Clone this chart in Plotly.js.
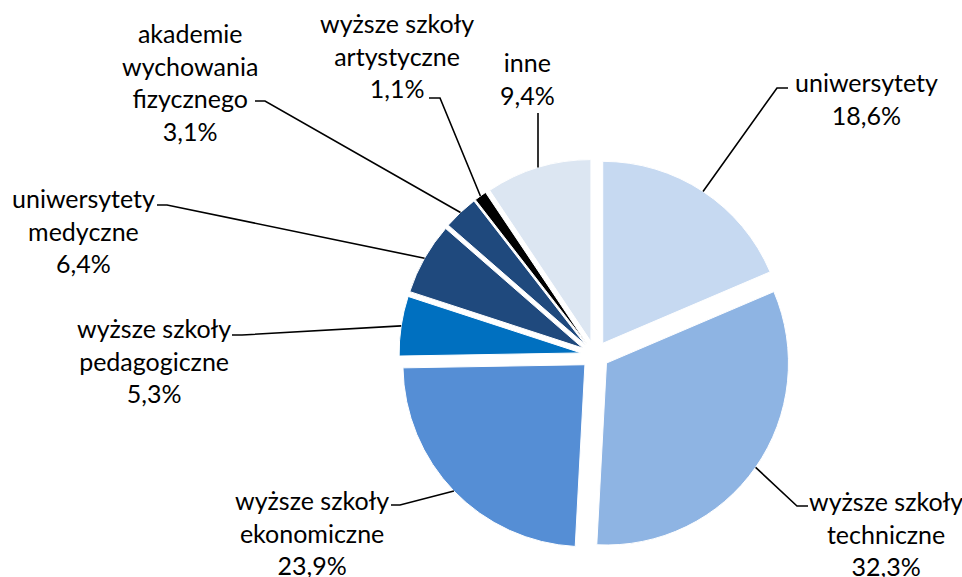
<!DOCTYPE html>
<html>
<head>
<meta charset="utf-8">
<script src="https://cdn.plot.ly/plotly-3.0.1.min.js"></script>
<style>
  html, body { margin: 0; padding: 0; background: #fff; }
  #chart { width: 962px; height: 577px; }
</style>
</head>
<body>
<div id="chart"></div>
<script>
// ---- data ----
const categories = [
  'uniwersytety',
  'wyższe szkoły techniczne',
  'wyższe szkoły ekonomiczne',
  'wyższe szkoły pedagogiczne',
  'uniwersytety medyczne',
  'akademie wychowania fizycznego',
  'wyższe szkoły artystyczne',
  'inne'
];
const labelText = [
  'uniwersytety',
  'wyższe szkoły<br>techniczne',
  'wyższe szkoły<br>ekonomiczne',
  'wyższe szkoły<br>pedagogiczne',
  'uniwersytety<br>medyczne',
  'akademie<br>wychowania<br>fizycznego',
  'wyższe szkoły<br>artystyczne',
  'inne'
];
const shares = [18.6, 32.3, 23.9, 5.3, 6.4, 3.1, 1.1, 9.4];

// ---- styles ----
const colors = ['#C6D9F1', '#8EB4E3', '#558ED5', '#0070C0', '#1F497D', '#1F497D', '#000000', '#DCE6F2'];
const W = 962, H = 577;
const pullFrac = 0.077;
const domX = [399 / W, 791 / W];
const domY = [1 - 551 / H, 1 - 159 / H];
// label placement (pixels): text block center (tx, ty), elbow (ex, ey), end of horizontal tick (hx)
const labelPos = [
  {tx: 866, ty: 98,  ex: 777, ey: 88,  hx: 788},
  {tx: 886, ty: 533, ex: 797, ey: 506, hx: 808},
  {tx: 312, ty: 532, ex: 400, ey: 505, hx: 391},
  {tx: 154, ty: 360, ex: 242, ey: 335, hx: 232},
  {tx: 83,  ty: 231, ex: 167, ey: 205, hx: 157},
  {tx: 190, ty: 82,  ex: 265, ey: 101, hx: 255},
  {tx: 397, ty: 56,  ex: 440, ey: 98,  hx: 429},
  {tx: 527, ty: 79,  ex: 538, ey: 113, hx: 538}
];
const FONT = {family: 'Lato, "Open Sans", sans-serif', size: 25, color: '#000'};

// ---- geometry following Plotly's pie sizing ----
const bw = W * (domX[1] - domX[0]), bh = H * (domY[1] - domY[0]);
const R = Math.min(bw, bh) / 2 / (1 + pullFrac);
const CX = W * (domX[0] + domX[1]) / 2;
const CY = H * (1 - domY[0]) - bh / 2;
const total = shares.reduce((a, b) => a + b, 0);

const px = x => x / W;
const py = y => 1 - y / H;

const annotations = [];
const shapes = [];
let cum = 0;
shares.forEach((v, i) => {
  const mid = (cum + v / 2) / total * 2 * Math.PI;
  cum += v;
  const dx = Math.sin(mid), dy = -Math.cos(mid);
  const ax = CX + dx * (pullFrac * R + R);
  const ay = CY + dy * (pullFrac * R + R);
  const p = labelPos[i];
  annotations.push({
    xref: 'paper', yref: 'paper', x: px(p.tx), y: py(p.ty),
    xanchor: 'center', yanchor: 'middle', align: 'center',
    showarrow: false, font: FONT,
    text: labelText[i] + '<br>' + v.toFixed(1).replace('.', ',') + '%'
  });
  shapes.push({
    type: 'path', xref: 'paper', yref: 'paper',
    path: 'M ' + px(ax) + ' ' + py(ay) + ' L ' + px(p.ex) + ' ' + py(p.ey) + ' L ' + px(p.hx) + ' ' + py(p.ey),
    line: {color: '#000', width: 1.6}
  });
});

const trace = {
  type: 'pie',
  labels: categories,
  values: shares,
  sort: false,
  direction: 'clockwise',
  rotation: 0,
  pull: shares.map(() => pullFrac),
  marker: {colors: colors, line: {color: '#fff', width: 1}},
  textinfo: 'none',
  hoverinfo: 'skip',
  domain: {x: domX, y: domY},
  showlegend: false
};

Plotly.newPlot('chart', [trace], {
  width: W, height: H,
  margin: {l: 0, r: 0, t: 0, b: 0},
  paper_bgcolor: '#fff',
  showlegend: false,
  annotations: annotations,
  shapes: shapes,
  font: FONT
}, {displayModeBar: false, staticPlot: true});
</script>
</body>
</html>
